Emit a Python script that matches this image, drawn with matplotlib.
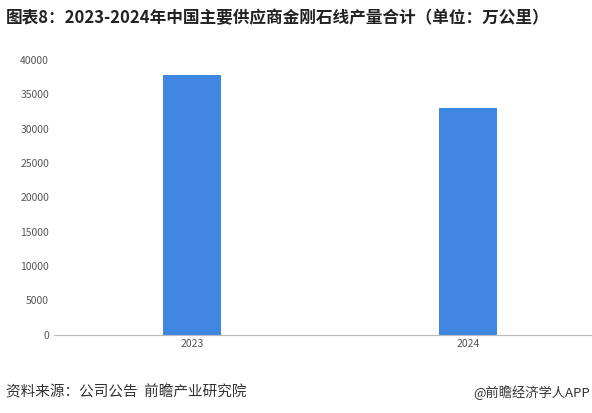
import matplotlib.pyplot as plt

plt.rcParams['font.family'] = ['Noto Sans CJK SC', 'DejaVu Sans']

years = ['2023', '2024']
values = [37800, 33000]

fig = plt.figure(figsize=(5.92, 4.13), dpi=100)
ax = fig.add_axes([0.091, 0.19, 0.909, 0.665])

ax.bar(years, values, width=0.21, color='#3f86e0')
ax.set_xlim(-0.5, 1.45)
ax.set_ylim(0, 40000)
ax.set_yticks(range(0, 40001, 5000))
ax.tick_params(axis='both', labelsize=7.5, colors='#555555', length=0)
for s in ['top', 'right', 'left']:
    ax.spines[s].set_visible(False)
ax.spines['bottom'].set_color('#bbbbbb')

fig.text(0.01, 0.955, '图表8：2023-2024年中国主要供应商金刚石线产量合计（单位：万公里）',
         fontsize=12, fontweight='bold', color='#222222', va='center')
fig.text(0.01, 0.05, '资料来源：公司公告  前瞻产业研究院', fontsize=10.5, color='#333333', va='center')
fig.text(0.997, 0.05, '@前瞻经济学人APP', fontsize=9.5, color='#333333', va='center', ha='right')

fig.savefig('out.png')
